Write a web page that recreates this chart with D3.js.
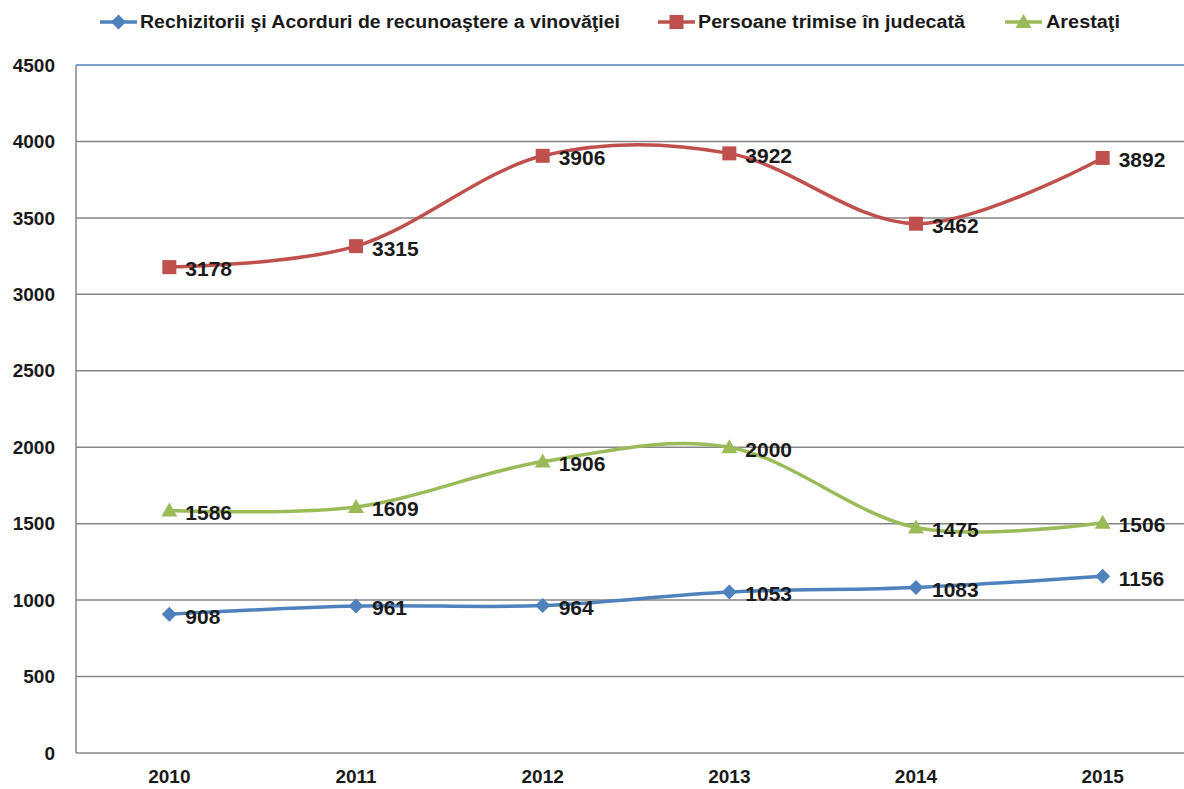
<!DOCTYPE html>
<html>
<head>
<meta charset="utf-8">
<script src="https://cdn.jsdelivr.net/npm/d3@7"></script>
<style>
  body { margin: 0; background: #fff; }
  svg { display: block; font-family: "Liberation Sans", Arial, sans-serif; font-weight: bold; }
</style>
</head>
<body>
<div id="chart"></div>
<script>
'use strict';

// data
const years = ['2010', '2011', '2012', '2013', '2014', '2015'];
const rechizitorii = [908, 961, 964, 1053, 1083, 1156];
const persoane = [3178, 3315, 3906, 3922, 3462, 3892];
const arestati = [1586, 1609, 1906, 2000, 1475, 1506];
const yTicks = [0, 500, 1000, 1500, 2000, 2500, 3000, 3500, 4000, 4500];
const seriesNames = [
    'Rechizitorii şi Acorduri de recunoaştere a vinovăţiei',
    'Persoane trimise în judecată',
    'Arestaţi'
];

(function() {
    let width = 1184,
        height = 789,
        plotLeft = 76,
        plotRight = 1196,
        plotTop = 65,
        plotBottom = 753;

    let series = [
        { name: seriesNames[0], values: rechizitorii, color: '#4f81bd', marker: 'diamond' },
        { name: seriesNames[1], values: persoane, color: '#c0504d', marker: 'square' },
        { name: seriesNames[2], values: arestati, color: '#9bbb59', marker: 'triangle' }
    ];

    let svg = d3.select('#chart').append('svg')
        .attr('width', width)
        .attr('height', height);

    let x = d3.scalePoint().domain(years).range([plotLeft, plotRight]).padding(0.5);
    let y = d3.scaleLinear().domain([0, 4500]).range([plotBottom, plotTop]);

    // gridlines
    svg.selectAll('.grid')
        .data(yTicks.filter(d => d > 0))
        .enter()
        .append('line')
        .attr('x1', plotLeft)
        .attr('x2', width)
        .attr('y1', d => y(d))
        .attr('y2', d => y(d))
        .attr('stroke', d => d === 4500 ? '#4f81bd' : '#868686')
        .attr('stroke-width', 1.5);

    // axis lines
    svg.append('line')
        .attr('x1', plotLeft).attr('x2', plotLeft)
        .attr('y1', plotTop).attr('y2', plotBottom)
        .attr('stroke', '#868686').attr('stroke-width', 1.5);
    svg.append('line')
        .attr('x1', plotLeft).attr('x2', width)
        .attr('y1', plotBottom).attr('y2', plotBottom)
        .attr('stroke', '#868686').attr('stroke-width', 1.5);

    // y labels
    svg.selectAll('.ylab')
        .data(yTicks)
        .enter()
        .append('text')
        .attr('x', 55)
        .attr('y', d => y(d))
        .attr('dy', '0.35em')
        .attr('text-anchor', 'end')
        .attr('font-size', 19)
        .attr('fill', '#1a1a1a')
        .text(d => d);

    // x labels
    svg.selectAll('.xlab')
        .data(years)
        .enter()
        .append('text')
        .attr('x', d => x(d))
        .attr('y', 776)
        .attr('dy', '0.35em')
        .attr('text-anchor', 'middle')
        .attr('font-size', 19)
        .attr('fill', '#1a1a1a')
        .text(d => d);

    let line = d3.line()
        .x((d, i) => x(years[i]))
        .y(d => y(d))
        .curve(d3.curveCardinal.tension(0));

    function markerPath(type, cx, cy) {
        if (type === 'diamond') {
            let r = 7.5;
            return `M${cx},${cy - r}L${cx + r},${cy}L${cx},${cy + r}L${cx - r},${cy}Z`;
        }
        if (type === 'square') {
            let r = 7;
            return `M${cx - r},${cy - r}H${cx + r}V${cy + r}H${cx - r}Z`;
        }
        let r = 8;
        return `M${cx},${cy - r}L${cx + r},${cy + r * 0.75}L${cx - r},${cy + r * 0.75}Z`;
    }

    series.forEach(s => {
        svg.append('path')
            .datum(s.values)
            .attr('d', line)
            .attr('fill', 'none')
            .attr('stroke', s.color)
            .attr('stroke-width', 3.5);

        svg.selectAll(null)
            .data(s.values)
            .enter()
            .append('path')
            .attr('d', (d, i) => markerPath(s.marker, x(years[i]), y(d)))
            .attr('fill', s.color);

        svg.selectAll(null)
            .data(s.values)
            .enter()
            .append('text')
            .attr('x', (d, i) => x(years[i]) + 16)
            .attr('y', d => y(d) + 2)
            .attr('dy', '0.35em')
            .attr('font-size', 21)
            .attr('fill', '#1a1a1a')
            .text(d => d);
    });

    // legend
    let legendItems = [
        { x0: 100, tx: 140, tw: 480 },
        { x0: 658, tx: 698, tw: 267 },
        { x0: 1005, tx: 1046, tw: 74 }
    ];
    series.forEach((s, i) => {
        let it = legendItems[i];
        svg.append('line')
            .attr('x1', it.x0).attr('x2', it.x0 + 37)
            .attr('y1', 22).attr('y2', 22)
            .attr('stroke', s.color).attr('stroke-width', 3.5);
        svg.append('path')
            .attr('d', markerPath(s.marker, it.x0 + 18.5, 22))
            .attr('fill', s.color);
        svg.append('text')
            .attr('x', it.tx)
            .attr('y', 22)
            .attr('dy', '0.35em')
            .attr('font-size', 18)
            .attr('fill', '#1a1a1a')
            .attr('textLength', it.tw)
            .attr('lengthAdjust', 'spacingAndGlyphs')
            .text(s.name);
    });
})();
</script>
</body>
</html>
